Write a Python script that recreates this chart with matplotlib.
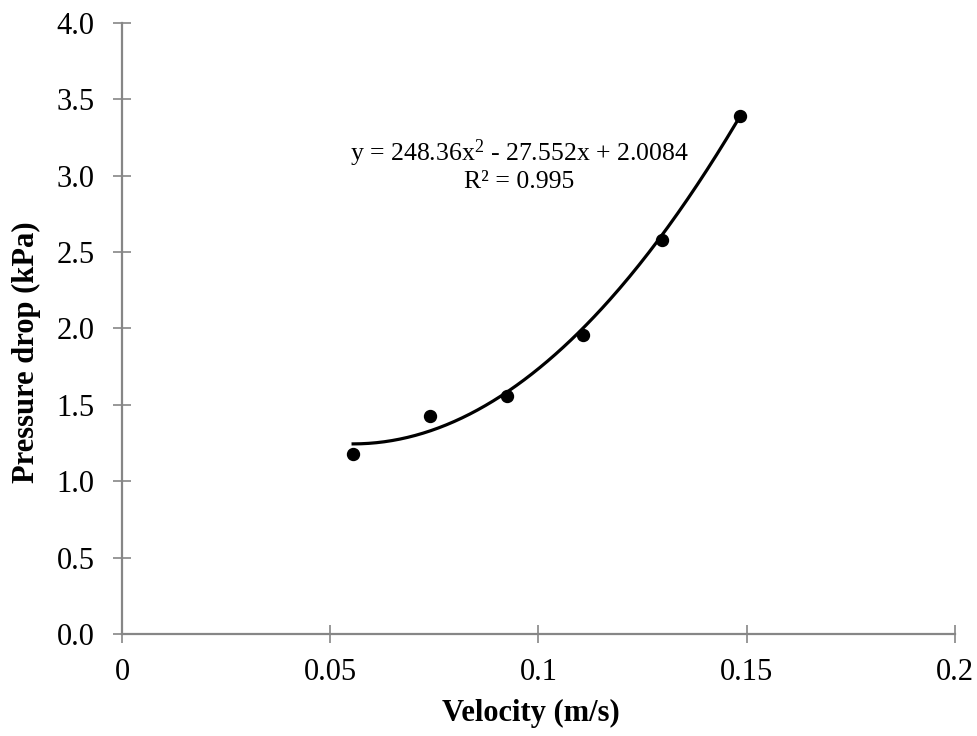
import numpy as np
import matplotlib.pyplot as plt

# data
velocity = [0.0555, 0.0740, 0.0925, 0.1107, 0.1297, 0.1484]
pressure = [1.18, 1.43, 1.56, 1.96, 2.58, 3.39]
coef = [248.36, -27.552, 2.0084]

x_ticks = [0, 0.05, 0.1, 0.15, 0.2]
x_labels = ['0', '0.05', '0.1', '0.15', '0.2']
y_ticks = [0.0, 0.5, 1.0, 1.5, 2.0, 2.5, 3.0, 3.5, 4.0]

plt.rcParams['font.family'] = ['Liberation Serif', 'DejaVu Serif']
plt.rcParams['mathtext.fontset'] = 'custom'
plt.rcParams['mathtext.rm'] = 'Liberation Serif'
plt.rcParams['mathtext.it'] = 'Liberation Serif'
plt.rcParams['mathtext.default'] = 'rm'

fig = plt.figure(figsize=(9.78, 7.36), dpi=100)
ax = fig.add_axes([0.1247, 0.1386, 0.8518, 0.8303])

xs = np.linspace(min(velocity), max(velocity), 200)
ax.plot(xs, np.polyval(coef, xs), color='black', linewidth=2.3)
ax.plot(velocity, pressure, 'o', color='black', markersize=8.6)

ax.text(0.0954, 3.145, 'y = 248.36x$^2$ - 27.552x + 2.0084', ha='center', va='center', fontsize=18.5)
ax.text(0.0954, 2.96, 'R² = 0.995', ha='center', va='center', fontsize=18.5)

ax.set_xlim(0, 0.2)
ax.set_ylim(0, 4.0)
ax.set_xticks(x_ticks)
ax.set_xticklabels(x_labels)
ax.set_yticks(y_ticks)
ax.set_yticklabels([f'{v:.1f}' for v in y_ticks])

for side in ['top', 'right']:
    ax.spines[side].set_visible(False)
for side in ['left', 'bottom']:
    ax.spines[side].set_color('#868686')
    ax.spines[side].set_linewidth(1.6)

ax.tick_params(axis='both', direction='inout', length=13, width=1.2, color='#868686',
               labelsize=22, labelcolor='black')
ax.tick_params(axis='x', pad=11)
ax.tick_params(axis='y', pad=13)

ax.set_xlabel('Velocity (m/s)', fontsize=22, fontweight='bold')
ax.set_ylabel('Pressure drop (kPa)', fontsize=22, fontweight='bold')
ax.xaxis.set_label_coords(0.491, -0.106)
ax.yaxis.set_label_coords(-0.097, 0.4615)

fig.savefig('out.png', dpi=100)
